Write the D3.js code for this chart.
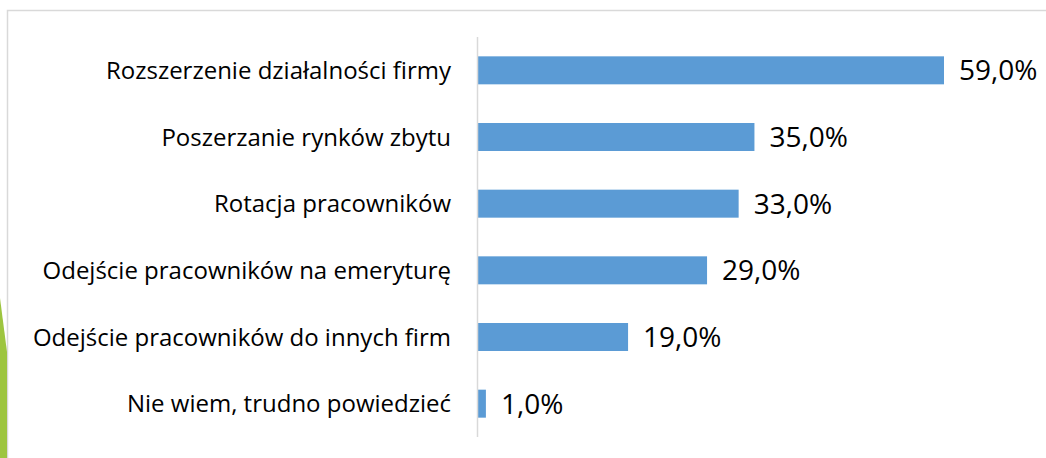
<!DOCTYPE html>
<html><head><meta charset="utf-8">
<script src="https://cdn.jsdelivr.net/npm/d3@7"></script>
<style>body{margin:0;background:#fff}svg{display:block}</style>
</head><body>
<script>
const categories = ["Rozszerzenie działalności firmy","Poszerzanie rynków zbytu","Rotacja pracowników","Odejście pracowników na emeryturę","Odejście pracowników do innych firm","Nie wiem, trudno powiedzieć"];
const values = [59,35,33,29,19,1];

const W=1046,H=458;
const svg=d3.select("body").append("svg").attr("width",W).attr("height",H);
svg.append("rect").attr("width",W).attr("height",H).attr("fill","#fff");
// slide frame
svg.append("path").attr("d",`M7.5,${H} V10.5 H${W}`).attr("fill","none").attr("stroke","#d9d9d9").attr("stroke-width",1.5);
// green decoration
svg.append("path").attr("d",`M0,298 L7,352 L7,${H} L0,${H} Z`).attr("fill","#9dc53f");

const x0=478;
const x=d3.scaleLinear().domain([0,59]).range([x0,944]);
const y=d3.scaleBand().domain(categories).range([37,437]).paddingInner(0.58).paddingOuter(0.29);

svg.selectAll("rect.bar").data(values).join("rect").attr("class","bar")
 .attr("x",x(0)).attr("y",(d,i)=>y(categories[i])).attr("width",d=>x(d)-x(0)).attr("height",y.bandwidth())
 .attr("fill","#5b9bd5");

svg.append("line").attr("x1",x0-0.5).attr("x2",x0-0.5).attr("y1",37).attr("y2",437).attr("stroke","#d9d9d9").attr("stroke-width",1.5);

svg.selectAll("text.cat").data(categories).join("text").attr("class","cat")
 .attr("x",451).attr("y",d=>y(d)+y.bandwidth()/2).attr("dy","0.36em").attr("text-anchor","end")
 .attr("font-family","'Open Sans', sans-serif").attr("font-size",24).attr("fill","#000").text(d=>d);

svg.selectAll("text.val").data(values).join("text").attr("class","val")
 .attr("x",d=>x(d)+15).attr("y",(d,i)=>y(categories[i])+y.bandwidth()/2).attr("dy","0.36em")
 .attr("font-family","'Open Sans', sans-serif").attr("font-size",28).attr("fill","#000")
 .text(d=>d.toFixed(1).replace(".",",")+"%");
</script>
</body></html>
